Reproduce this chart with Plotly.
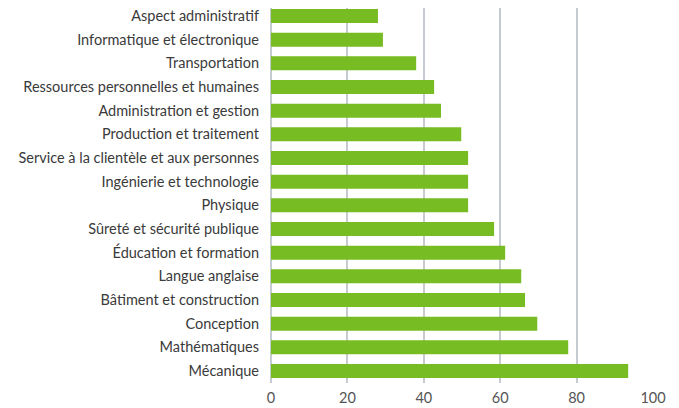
import plotly.graph_objects as go

# Catégories (de haut en bas)
categories = [
    "Aspect administratif",
    "Informatique et électronique",
    "Transportation",
    "Ressources personnelles et humaines",
    "Administration et gestion",
    "Production et traitement",
    "Service à la clientèle et aux personnes",
    "Ingénierie et technologie",
    "Physique",
    "Sûreté et sécurité publique",
    "Éducation et formation",
    "Langue anglaise",
    "Bâtiment et construction",
    "Conception",
    "Mathématiques",
    "Mécanique",
]

values = [28.0, 29.3, 38.0, 42.7, 44.5, 49.8, 51.6, 51.6, 51.6,
          58.4, 61.3, 65.5, 66.5, 69.7, 77.8, 93.5]

x_ticks = [0, 20, 40, 60, 80, 100]

fig = go.Figure(go.Bar(
    x=values,
    y=categories,
    orientation="h",
    marker=dict(color="#77bc22", line=dict(width=0)),
))

# la page ajoute 8px de marge au body -> figure un peu plus petite
fig.update_layout(
    width=671,
    height=400,
    margin=dict(l=263, r=26, t=0, b=25),
    paper_bgcolor="white",
    plot_bgcolor="white",
    bargap=0.41,
    showlegend=False,
    font=dict(family="Lato, Open Sans, sans-serif", size=14.5, color="#3a3a3a"),
)

fig.update_xaxes(
    range=[0, 100],
    tickvals=x_ticks,
    showgrid=True,
    gridcolor="#c6cad1",
    gridwidth=1.5,
    zeroline=True,
    zerolinecolor="#c6cad1",
    zerolinewidth=1.5,
    showline=False,
    ticklabelstandoff=4,
    tickfont=dict(size=14.5, color="#555555"),
    automargin=False,
    fixedrange=True,
)

fig.update_yaxes(
    range=[15.507, -0.338],
    showgrid=False,
    ticks="",
    ticklabelstandoff=11,
    tickfont=dict(size=14.5, color="#3a3a3a"),
    automargin=False,
    fixedrange=True,
)

fig.write_html("out.html")
